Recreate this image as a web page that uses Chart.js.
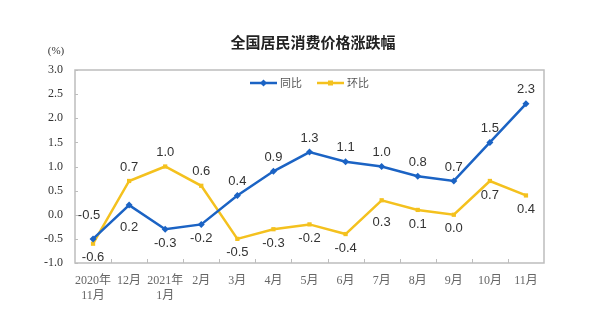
<!DOCTYPE html>
<html lang="zh">
<head>
    <meta charset="UTF-8">
    <title>全国居民消费价格涨跌幅</title>
    <script src="https://cdn.jsdelivr.net/npm/chart.js"></script>
    <style>
        body { margin: 0; background: #fff; }
        canvas { display: block; }
    </style>
</head>
<body>
    <canvas id="cpiChart" width="600" height="328"></canvas>
    <script>
        // Data
        const months = [['2020年', '11月'], '12月', ['2021年', '1月'], '2月', '3月', '4月', '5月', '6月', '7月', '8月', '9月', '10月', '11月'];
        const yoy = [-0.5, 0.2, -0.3, -0.2, 0.4, 0.9, 1.3, 1.1, 1.0, 0.8, 0.7, 1.5, 2.3];   // 同比
        const mom = [-0.6, 0.7, 1.0, 0.6, -0.5, -0.3, -0.2, -0.4, 0.3, 0.1, 0.0, 0.7, 0.4]; // 环比
        const yTicks = [-1.0, -0.5, 0.0, 0.5, 1.0, 1.5, 2.0, 2.5, 3.0];

        // where each value label sits relative to its point
        const yoyLabelPos = ['up2', 'down2', 'down', 'down', 'up', 'up', 'up', 'up', 'up', 'up', 'up', 'up', 'up'];
        const momLabelPos = ['down', 'up', 'up', 'up', 'down', 'down', 'down', 'down', 'down2', 'down', 'down', 'down', 'down'];

        const blue = '#1b63c4';
        const yellow = '#f4c11e';

        const decorations = {
            id: 'decorations',
            afterDraw(chart) {
                const ctx = chart.ctx;
                const a = chart.chartArea;
                ctx.save();

                // plot frame
                ctx.strokeStyle = '#bdbdbd';
                ctx.lineWidth = 1.5;
                ctx.strokeRect(a.left, a.top, a.right - a.left, a.bottom - a.top);

                // inward tick marks
                ctx.lineWidth = 1;
                const step = (a.right - a.left) / months.length;
                for (let i = 1; i < months.length; i++) {
                    const x = Math.round(a.left + i * step) + 0.5;
                    ctx.beginPath();
                    ctx.moveTo(x, a.bottom);
                    ctx.lineTo(x, a.bottom - 4);
                    ctx.stroke();
                }
                const yScale = chart.scales.y;
                yTicks.forEach(v => {
                    const y = Math.round(yScale.getPixelForValue(v)) + 0.5;
                    ctx.beginPath();
                    ctx.moveTo(a.left, y);
                    ctx.lineTo(a.left + 3, y);
                    ctx.stroke();
                });

                // title
                ctx.fillStyle = '#222';
                ctx.font = 'bold 15px "Noto Sans CJK SC"';
                ctx.textAlign = 'center';
                ctx.textBaseline = 'middle';
                ctx.fillText('全国居民消费价格涨跌幅', 313, 42);

                // unit
                ctx.fillStyle = '#333';
                ctx.font = '11px "Liberation Serif"';
                ctx.fillText('(%)', 56, 51);

                // legend
                const legend = [
                    { text: '同比', color: blue, style: 'diamond', x: 250 },
                    { text: '环比', color: yellow, style: 'square', x: 317 }
                ];
                legend.forEach(item => {
                    const y = 83;
                    ctx.strokeStyle = item.color;
                    ctx.lineWidth = 2.5;
                    ctx.beginPath();
                    ctx.moveTo(item.x, y);
                    ctx.lineTo(item.x + 27, y);
                    ctx.stroke();
                    ctx.fillStyle = item.color;
                    const cx = item.x + 13.5;
                    if (item.style === 'diamond') {
                        ctx.beginPath();
                        ctx.moveTo(cx, y - 3.5);
                        ctx.lineTo(cx + 3.5, y);
                        ctx.lineTo(cx, y + 3.5);
                        ctx.lineTo(cx - 3.5, y);
                        ctx.closePath();
                        ctx.fill();
                    } else {
                        ctx.fillRect(cx - 2.5, y - 2.5, 5, 5);
                    }
                    ctx.fillStyle = '#555';
                    ctx.font = '11px "Noto Sans CJK SC"';
                    ctx.textAlign = 'left';
                    ctx.fillText(item.text, item.x + 30, y);
                });

                // value labels
                ctx.fillStyle = '#333';
                ctx.font = '13px "Liberation Sans"';
                ctx.textAlign = 'center';
                const offsets = { up: -14, up2: -23, down: 14, down2: 22 };
                [[0, yoyLabelPos], [1, momLabelPos]].forEach(([di, pos]) => {
                    const meta = chart.getDatasetMeta(di);
                    const values = chart.data.datasets[di].data;
                    meta.data.forEach((pt, i) => {
                        let x = pt.x;
                        if (di === 0 && i === 0) x -= 4;
                        ctx.fillText(values[i].toFixed(1), x, pt.y + offsets[pos[i]]);
                    });
                });

                ctx.restore();
            }
        };

        new Chart(document.getElementById('cpiChart'), {
            type: 'line',
            data: {
                labels: months,
                datasets: [
                    {
                        label: '同比',
                        data: yoy,
                        borderColor: blue,
                        backgroundColor: blue,
                        borderWidth: 2.5,
                        pointStyle: 'rectRot',
                        pointRadius: 3.5,
                        pointBorderWidth: 0,
                        tension: 0
                    },
                    {
                        label: '环比',
                        data: mom,
                        borderColor: yellow,
                        backgroundColor: yellow,
                        borderWidth: 2.5,
                        pointStyle: 'rect',
                        pointRadius: 3,
                        pointBorderWidth: 0,
                        tension: 0
                    }
                ]
            },
            options: {
                responsive: false,
                animation: false,
                layout: { padding: { top: 70, right: 56, left: 0, bottom: 0 } },
                plugins: {
                    legend: { display: false },
                    title: { display: false },
                    tooltip: { enabled: false }
                },
                scales: {
                    x: {
                        offset: true,
                        grid: { display: false },
                        border: { display: false },
                        ticks: {
                            color: '#666',
                            font: { family: '"Liberation Serif", "Noto Sans CJK SC"', size: 12 },
                            padding: 3,
                            maxRotation: 0,
                            autoSkip: false
                        },
                        afterFit(scale) { scale.height = 65; }
                    },
                    y: {
                        min: -1,
                        max: 3,
                        grid: { display: false, drawTicks: false },
                        border: { display: false },
                        ticks: {
                            stepSize: 0.5,
                            padding: 12,
                            color: '#333',
                            font: { family: '"Liberation Serif"', size: 12 },
                            callback: v => v.toFixed(1)
                        },
                        afterFit(scale) { scale.width = 75; }
                    }
                }
            },
            plugins: [decorations]
        });
    </script>
</body>
</html>
